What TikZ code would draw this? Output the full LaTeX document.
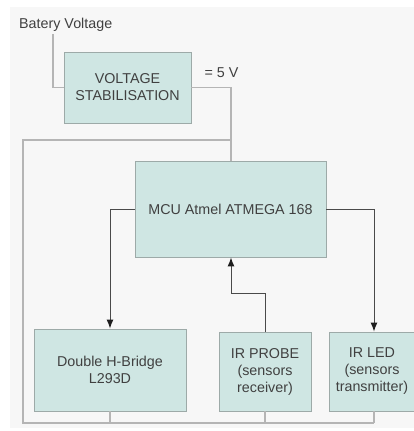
\documentclass[tikz,border=0pt]{standalone}
\usepackage{fontspec}
\setmainfont{Liberation Sans}
\usetikzlibrary{arrows.meta}
\definecolor{boxfill}{HTML}{CFE6E3}
\definecolor{boxline}{HTML}{9DAAA8}
\definecolor{bg}{HTML}{F7F7F7}
\definecolor{txt}{HTML}{404040}
\definecolor{arr}{HTML}{4A4A4A}
\definecolor{tip}{HTML}{1E1E1E}
\definecolor{pwr}{HTML}{B5B5B5}
\tikzset{
  blk/.style={draw=boxline, fill=boxfill, line width=0.9pt, inner sep=0pt,
    align=center, text=txt, font=\fontsize{14.3}{17}\selectfont},
  lbl/.style={inner sep=0pt, text=txt, font=\fontsize{14.3}{17}\selectfont},
  sig/.style={draw=arr, line width=1pt},
  sigarrow/.style={sig, -{Latex[length=9pt,width=7pt,color=tip]}},
  pw/.style={draw=pwr, line width=1.3pt},
}
\begin{document}
\begin{tikzpicture}[x=1pt,y=-1pt]
\useasboundingbox (0,0) rectangle (414,431);
\fill[white] (0,0) rectangle (414,431);
\fill[bg] (10,7) rectangle (414,428);

\node[lbl, anchor=west] (bat) at (19,25) {Batery Voltage};
\coordinate (batp) at (53,34);
\node[blk, minimum width=127pt, minimum height=71pt] (vs) at (127.5,87.5) {VOLTAGE\\STABILISATION};
\node[lbl] (five) at (221.5,73) {= 5 V};
\node[blk, minimum width=191pt, minimum height=96pt] (mcu) at (230.5,209) {MCU Atmel ATMEGA 168};
\node[blk, minimum width=152pt, minimum height=82pt] (hb) at (110,370) {Double H-Bridge\\L293D};
\node[blk, minimum width=92pt, minimum height=79pt] (irp) at (265,371.5) {IR PROBE\\(sensors\\receiver)};
\node[blk, minimum width=86pt, minimum height=79pt] (irl) at (372,371.5) {IR LED\\(sensors\\transmitter)};

\coordinate (pj) at (231,140);
\coordinate (gl) at (23,140);
\coordinate (gb) at (23,423);
\coordinate (gr) at (374,423);

% power
\draw[pw] (batp) |- (vs.west);
\draw[pw] (vs.east) -| (pj) -- (mcu.north -| pj);
\draw[pw] (pj) -- (gl) -- (gb) -- (gr);
\draw[pw] (hb.south) -- (hb.south |- gb);
\draw[pw] (irp.south) -- (irp.south |- gb);
\draw[pw] (gr) -- (gr |- irl.south);

% signals
\draw[sigarrow] (mcu.west) -| (hb.north);
\draw[sigarrow] (mcu.east) -| (gr |- irl.north);
\draw[sigarrow] (irp.north) -- ++(0,-38) -| (mcu.south -| pj);
\end{tikzpicture}
\end{document}
